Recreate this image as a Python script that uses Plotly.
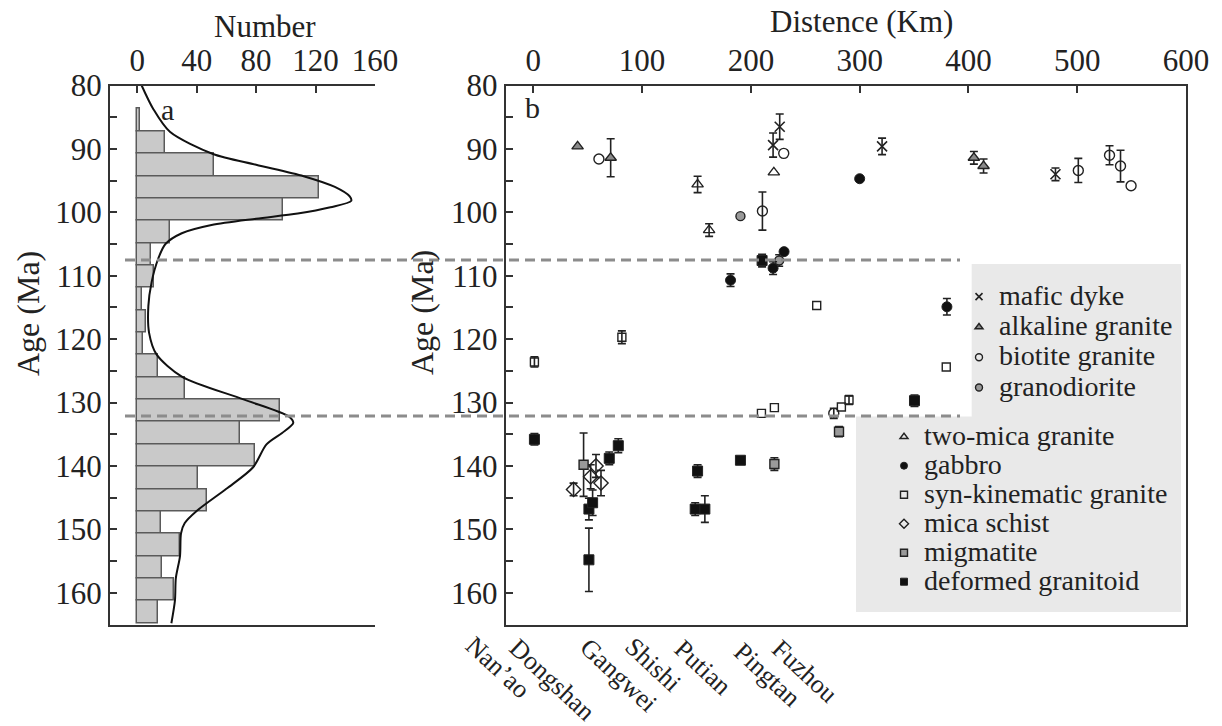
import plotly.graph_objects as go

W, H = 1222, 726
FONT = "Liberation Serif, Times New Roman, serif"
INK = "#222222"

# ---------------- panel a: age histogram + probability curve ----------------
hist_bin_start = 83.7      # Ma, lower edge of first bin
hist_bin_width = 3.526     # Ma
hist_counts = [2, 19, 52, 122, 98, 22, 9, 11, 3, 6, 4, 14, 32, 96, 69, 79, 41, 47, 16, 29, 17, 25, 14]

curve_age = [80, 83.7, 87.3, 90.8, 92.5, 94.3, 96.0, 97.5, 98.2, 99.2, 100.2, 101.0, 102.0,
             103.3, 105.0, 107.4, 111.0, 114.8, 119.0, 122.4, 125.9, 129.5, 132.2, 133.2,
             134.8, 136.6, 140.2, 143.6, 147.1, 149.0, 150.6, 154.2, 157.7, 161.2, 164.8]
curve_number = [3, 10.8, 22, 51, 80, 112, 133, 143, 144, 130, 108, 80, 50,
                30, 19, 14, 9.7, 7.5, 8, 13, 30, 71.5, 102, 105,
                97.5, 87, 78, 60, 40, 32, 29.5, 28.8, 26, 25.4, 23]

# ---------------- panel b: ages (Ma) vs distance (km) ----------------
mafic_km = [220.4, 226.5, 320.6, 480.0]
mafic_age = [89.4, 86.5, 89.6, 94.0]
mafic_err = [1.9, 2.0, 1.3, 1.0]

alkaline_km = [40.7, 71.1, 405.0, 413.9]
alkaline_age = [89.6, 91.4, 91.4, 92.7]
alkaline_err = [0, 3.0, 1.0, 1.1]

biotite_km = [60.3, 210.6, 230.2, 276.2, 501.0, 529.7, 539.8, 549.5]
biotite_age = [91.6, 99.8, 90.7, 131.7, 93.4, 91.0, 92.7, 95.8]
biotite_err = [0, 3.0, 0, 0.8, 1.9, 1.5, 2.5, 0]

granodiorite_km = [190.4, 226.0]
granodiorite_age = [100.6, 107.6]
granodiorite_err = [0, 0.9]

twomica_km = [151.0, 161.6, 221.1]
twomica_age = [95.6, 102.8, 93.7]
twomica_err = [1.3, 1.0, 0]

gabbro_km = [181.3, 220.4, 230.5, 300.0, 380.2]
gabbro_age = [110.7, 108.8, 106.2, 94.7, 114.9]
gabbro_err = [1.0, 1.0, 0, 0, 1.3]

synkin_km = [1.0, 81.4, 260.5, 209.7, 221.6, 283.2, 290.2, 379.6]
synkin_age = [123.6, 119.7, 114.7, 131.7, 130.8, 130.7, 129.6, 124.4]
synkin_err = [0.8, 1.0, 0, 0, 0, 0, 0.7, 0]

schist_km = [37.0, 52.7, 57.6, 62.2]
schist_age = [143.7, 141.7, 140.0, 142.7]
schist_err = [1.0, 1.9, 1.8, 2.0]

migmatite_km = [46.2, 221.6, 281.0]
migmatite_age = [139.8, 139.7, 134.6]
migmatite_err = [5.0, 1.0, 0.8]

deformed_km = [1.0, 51.1, 54.5, 51.1, 69.8, 78.1, 151.0, 148.8, 157.7, 190.4, 210.3, 350.4]
deformed_age = [135.8, 146.8, 145.8, 154.8, 138.8, 136.8, 140.8, 146.8, 146.8, 139.1, 107.6, 129.7]
deformed_err = [0.9, 1.7, 2.0, 5.0, 1.0, 1.1, 1.0, 1.0, 2.1, 0, 1.0, 0.9]

boundary_ages = [107.5, 132.1]
locations = ["Nan’ao", "Dongshan", "Gangwei", "Shishi", "Putian", "Pingtan", "Fuzhou"]

# ---------------- layout helpers (pixel -> paper) ----------------
def px(x):
    return x / W

def py(y):
    return 1 - y / H

Y_DOM = [py(624.5), py(85.5)]

fig = go.Figure()

# histogram bars
centers = [hist_bin_start + hist_bin_width * (i + 0.5) for i in range(len(hist_counts))]
fig.add_trace(go.Bar(
    x=hist_counts, y=centers, orientation="h", width=hist_bin_width, base=0,
    marker=dict(color="#c9c9c9", line=dict(color="#5a5a5a", width=1.5)),
    xaxis="x", yaxis="y", showlegend=False, hoverinfo="skip",
))
fig.add_trace(go.Scatter(
    x=curve_number, y=curve_age, mode="lines",
    line=dict(color="#111111", width=2, shape="spline", smoothing=0.8),
    xaxis="x", yaxis="y", showlegend=False, hoverinfo="skip",
))

# rock groups: (label, km, age, err, marker, legend)
groups = [
    ("mafic dyke", mafic_km, mafic_age, mafic_err,
     dict(symbol="x-thin-open", size=10, color=INK, line=dict(color=INK, width=1.6)), "legend"),
    ("alkaline granite", alkaline_km, alkaline_age, alkaline_err,
     dict(symbol="triangle-up", size=10, color="#8a8a8a", line=dict(color=INK, width=1.4)), "legend"),
    ("biotite granite", biotite_km, biotite_age, biotite_err,
     dict(symbol="circle-open", size=10, color=INK, line=dict(color=INK, width=1.4)), "legend"),
    ("granodiorite", granodiorite_km, granodiorite_age, granodiorite_err,
     dict(symbol="circle", size=9, color="#999999", line=dict(color=INK, width=1.4)), "legend"),
    ("two-mica granite", twomica_km, twomica_age, twomica_err,
     dict(symbol="triangle-up-open", size=10, color=INK, line=dict(color=INK, width=1.4)), "legend2"),
    ("gabbro", gabbro_km, gabbro_age, gabbro_err,
     dict(symbol="circle", size=10, color="#111111", line=dict(color=INK, width=1)), "legend2"),
    ("syn-kinematic granite", synkin_km, synkin_age, synkin_err,
     dict(symbol="square-open", size=8, color=INK, line=dict(color=INK, width=1.4)), "legend2"),
    ("mica schist", schist_km, schist_age, schist_err,
     dict(symbol="diamond-open", size=11, color=INK, line=dict(color=INK, width=1.4)), "legend2"),
    ("migmatite", migmatite_km, migmatite_age, migmatite_err,
     dict(symbol="square", size=9, color="#9a9a9a", line=dict(color=INK, width=1.4)), "legend2"),
    ("deformed granitoid", deformed_km, deformed_age, deformed_err,
     dict(symbol="square", size=10, color="#111111", line=dict(color=INK, width=1)), "legend2"),
]

for name, km, age, err, marker, leg in groups:
    with_err = [i for i, e in enumerate(err) if e > 0]
    without_err = [i for i, e in enumerate(err) if e <= 0]
    if with_err:
        fig.add_trace(go.Scatter(
            x=[km[i] for i in with_err], y=[age[i] for i in with_err], mode="markers",
            marker=marker,
            error_y=dict(type="data", array=[err[i] for i in with_err], visible=True,
                         color=INK, thickness=1.6, width=4),
            xaxis="x2", yaxis="y2", showlegend=False, hoverinfo="skip",
        ))
    if without_err:
        fig.add_trace(go.Scatter(
            x=[km[i] for i in without_err], y=[age[i] for i in without_err], mode="markers",
            marker=marker, xaxis="x2", yaxis="y2", showlegend=False, hoverinfo="skip",
        ))
    # legend swatch
    small = dict(marker)
    small["size"] = 7
    fig.add_trace(go.Scatter(
        x=[None], y=[None], mode="markers", marker=small,
        name=f'<span style="font-family:Liberation Serif,serif;font-size:28px">{name}</span>',
        xaxis="x2", yaxis="y2", legend=leg, showlegend=True, hoverinfo="skip",
    ))

axis_common = dict(
    ticks="inside", ticklen=7, tickwidth=1.5, tickcolor="#333333",
    showline=True, linecolor="#333333", linewidth=2,
    showgrid=False, zeroline=False, automargin=False,
    tickfont=dict(family=FONT, size=31, color=INK),
)

fig.update_layout(
    template="none",
    width=W, height=H,
    margin=dict(l=0, r=0, t=0, b=0, pad=0),
    paper_bgcolor="white", plot_bgcolor="rgba(0,0,0,0)",
    font=dict(family=FONT, color=INK),
    bargap=0,
    xaxis=dict(domain=[px(110), px(375)], anchor="y", side="top",
               range=[-18.3, 160], tickvals=[0, 40, 80, 120, 160], mirror=True,
               **axis_common),
    yaxis=dict(domain=Y_DOM, anchor="x", range=[165, 80],
               tickvals=list(range(80, 161, 10)), mirror=False,
               minor=dict(tickvals=list(range(85, 166, 10)), ticks="inside", ticklen=7,
                          tickwidth=1.5, tickcolor="#333333"),
               **axis_common),
    xaxis2=dict(domain=[px(505.7), px(1186)], anchor="y2", side="top",
                range=[-25.4, 600], tickvals=list(range(0, 601, 100)), mirror=True,
                **axis_common),
    yaxis2=dict(domain=Y_DOM, anchor="x2", range=[165, 80],
                tickvals=list(range(80, 161, 10)), mirror=True,
                minor=dict(tickvals=list(range(85, 166, 10)), ticks="inside", ticklen=7,
                           tickwidth=1.5, tickcolor="#333333"),
                **axis_common),
    legend=dict(x=px(959), y=py(276.5), xanchor="left", yanchor="top",
                bgcolor="rgba(0,0,0,0)", borderwidth=0, tracegroupgap=0,
                font=dict(family=FONT, size=21, color=INK)),
    legend2=dict(x=px(884), y=py(417.2), xanchor="left", yanchor="top",
                 bgcolor="rgba(0,0,0,0)", borderwidth=0, tracegroupgap=0,
                 font=dict(family=FONT, size=20, color=INK)),
)

# legend backdrop (two stacked grey boxes)
shapes = [
    dict(type="rect", xref="paper", yref="paper", x0=px(971.7), x1=px(1181), y0=py(417), y1=py(264),
         fillcolor="#e9e9e9", line=dict(width=0), layer="below"),
    dict(type="rect", xref="paper", yref="paper", x0=px(856), x1=px(1181), y0=py(612), y1=py(416.5),
         fillcolor="#e9e9e9", line=dict(width=0), layer="below"),
]
# age boundaries spanning both panels
for a in boundary_ages:
    shapes.append(dict(type="line", xref="paper", yref="y", x0=px(125), x1=px(960), y0=a, y1=a,
                       line=dict(color="#8c8c8c", width=3, dash="10px,6px"), layer="above"))
fig.update_layout(shapes=shapes)


def label(text, x, y, size, angle=0):
    return dict(text=text, x=px(x), y=py(y), xref="paper", yref="paper",
                xanchor="center", yanchor="middle", textangle=angle,
                showarrow=False, font=dict(family=FONT, size=size, color=INK))


ann = [
    label("Number", 265, 27, 31),
    label("Distence (Km)", 861, 22, 31),
    label("Age (Ma)", 28, 314, 32, -90),
    label("Age (Ma)", 422, 313, 32, -90),
    label("a", 167, 110, 30),
    label("b", 532, 108, 30),
]
# location names along the profile
loc_centers = [(498, 667), (552, 679), (619, 675), (653, 664), (703, 667), (767, 674), (805, 671)]
for name, (cx, cy) in zip(locations, loc_centers):
    ann.append(label(name, cx, cy, 26, 43))
fig.update_layout(annotations=ann)

fig.write_html("out.html")
